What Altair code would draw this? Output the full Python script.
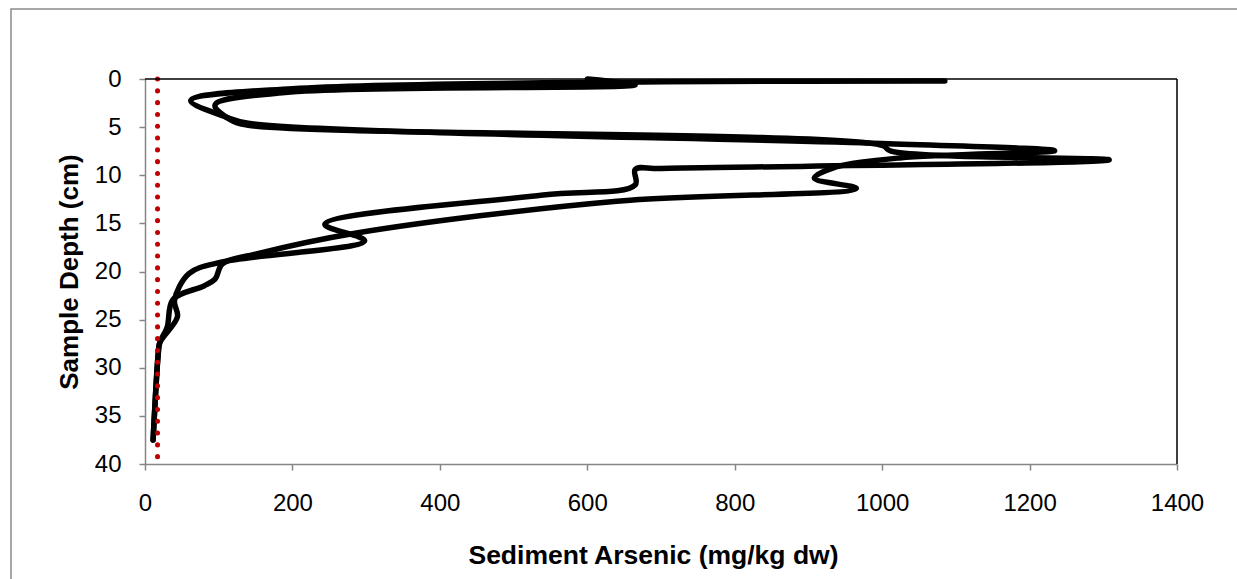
import altair as alt
import pandas as pd

# Sediment core profiles: arsenic (mg/kg dw) by sample depth (cm), listed top to bottom
core_a_arsenic = [1085, 200, 62, 112, 140, 1000, 1234, 1024, 933, 908, 965, 640, 287, 150, 105, 95, 80, 38, 30, 20, 18, 11]
core_a_depth = [0.2, 1.0, 2.25, 4.0, 4.6, 6.7, 7.45, 8.2, 9.25, 10.3, 11.35, 12.7, 16.0, 18.2, 19.2, 20.8, 21.5, 22.9, 25.8, 27.4, 28.5, 37.5]

core_b_arsenic = [600, 665, 190, 95, 115, 140, 1000, 1012, 1308, 700, 665, 665, 540, 244, 298, 105, 60, 40, 44, 20, 18, 11]
core_b_depth = [0.0, 0.6, 1.4, 2.7, 4.2, 4.8, 6.9, 7.5, 8.4, 9.3, 9.4, 11.0, 12.05, 15.1, 16.8, 19.0, 20.2, 23.0, 24.7, 27.4, 28.5, 37.5]

# Arsenic sediment quality guideline, drawn across the full depth range
guideline_arsenic = [17]
guideline_depth_range = [0, 40]

x_ticks = [0, 200, 400, 600, 800, 1000, 1200, 1400]
y_ticks = [0, 5, 10, 15, 20, 25, 30, 35, 40]

W, H = 1032, 385
AXIS_GREY = "#868686"
FONT = "Liberation Sans"

rows = []
for core, xs, ys in (("A", core_a_arsenic, core_a_depth), ("B", core_b_arsenic, core_b_depth)):
    for i, (x, y) in enumerate(zip(xs, ys)):
        rows.append({"core": core, "seq": i, "arsenic": x, "depth": y})
profiles_df = pd.DataFrame(rows)

guide_df = pd.DataFrame({
    "arsenic": guideline_arsenic,
    "top": [guideline_depth_range[0]],
    "bottom": [guideline_depth_range[1]],
})

x_scale = alt.Scale(domain=[x_ticks[0], x_ticks[-1]], nice=False, zero=False)
y_scale = alt.Scale(domain=[y_ticks[0], y_ticks[-1]], reverse=True, nice=False, zero=False)

x_axis = alt.Axis(
    values=x_ticks, format="d", grid=False, title="Sediment Arsenic (mg/kg dw)",
    domainColor=AXIS_GREY, domainWidth=1.5, tickColor=AXIS_GREY, tickWidth=1.5, tickSize=6,
    labelFont=FONT, labelFontSize=24, labelColor="black", labelPadding=21,
    labelFlush=False, labelOverlap=False,
    titleFont=FONT, titleFontSize=26.5, titleFontWeight="bold", titleColor="black",
    titleX=508, titleY=78, titleBaseline="top", titleAlign="center",
)
y_axis = alt.Axis(
    values=y_ticks, format="d", grid=False, title="Sample Depth (cm)",
    domainColor=AXIS_GREY, domainWidth=1.5, tickColor=AXIS_GREY, tickWidth=1.5, tickSize=6,
    labelFont=FONT, labelFontSize=24, labelColor="black", labelPadding=18,
    labelFlush=False, labelOverlap=False,
    titleFont=FONT, titleFontSize=26, titleFontWeight="bold", titleColor="black",
    titleAngle=270, titleX=-68, titleY=H / 2, titleBaseline="alphabetic", titleAlign="center",
)

# Outer chart-area frame (runs off the right and bottom edges of the page)
frame = alt.Chart(pd.DataFrame({"k": [0]})).mark_rect(
    fillOpacity=0, stroke="#8a8a8a", strokeWidth=1.5
).encode(
    x=alt.value(-134), x2=alt.value(W + 110), y=alt.value(-70), y2=alt.value(H + 130)
)

# Plot-area border on the top and right sides
top_edge = alt.Chart(pd.DataFrame({"k": [0]})).mark_rule(color="black", strokeWidth=1.5).encode(
    x=alt.value(0), x2=alt.value(W), y=alt.value(0)
)
right_edge = alt.Chart(pd.DataFrame({"k": [0]})).mark_rule(color="black", strokeWidth=1.5).encode(
    x=alt.value(W), y=alt.value(0), y2=alt.value(H)
)

profiles = alt.Chart(profiles_df).mark_line(
    interpolate="catmull-rom", color="black", strokeWidth=5.5, strokeCap="round", strokeJoin="round"
).encode(
    x=alt.X("arsenic:Q", scale=x_scale, axis=x_axis),
    y=alt.Y("depth:Q", scale=y_scale, axis=y_axis),
    detail="core:N",
    order="seq:Q",
)

guideline = alt.Chart(guide_df).mark_rule(
    color="#C00000", strokeWidth=5, strokeDash=[0.1, 11.7], strokeCap="round"
).encode(
    x=alt.X("arsenic:Q", scale=x_scale),
    y=alt.Y("top:Q", scale=y_scale),
    y2="bottom:Q",
)

chart = alt.layer(frame, profiles, guideline, top_edge, right_edge).properties(
    width=W, height=H,
    autosize=alt.AutoSizeParams(type="none"),
    padding={"left": 145, "top": 79, "right": 60, "bottom": 115},
    background="white",
).configure_view(stroke=None)

chart.save("out.html", embed_options={"renderer": "svg", "actions": False})
